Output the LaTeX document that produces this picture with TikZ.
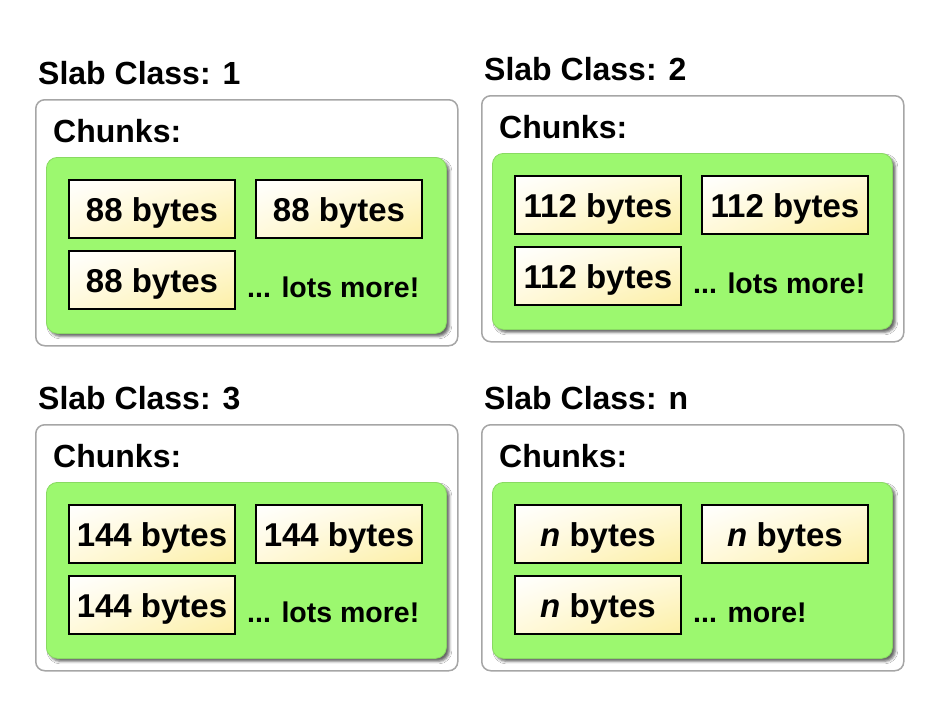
\documentclass[tikz,border=0pt]{standalone}
\usepackage{fontspec}
\setmainfont{Liberation Sans}
\usetikzlibrary{shadings,shadows.blur}

\definecolor{slabgreen}{HTML}{9CF86F}
\definecolor{boxgray}{HTML}{A6A6A6}
\definecolor{chunkyellow}{HTML}{FCEFA6}
\definecolor{chunkpale}{HTML}{FFF9DA}

\tikzset{
  titletext/.style={inner sep=0pt, font=\fontsize{32}{38}\selectfont\bfseries},
  moretext/.style={inner sep=0pt, font=\fontsize{28.5}{34}\selectfont\bfseries},
  classbox/.style={draw=boxgray, line width=1.5pt, fill=white, rounded corners=9pt,
    minimum width=422pt, minimum height=246pt, inner sep=0pt, anchor=north west},
  chunkarea/.style={fill=slabgreen, draw=slabgreen!88!black, line width=0.8pt,
    rounded corners=11pt, minimum width=400pt, minimum height=176pt, inner sep=0pt,
    anchor=north west,
    blur shadow={shadow xshift=3pt, shadow yshift=-3pt, shadow blur radius=2.5pt,
      shadow opacity=60}},
  chunkbox/.style={draw=black, line width=1.4pt, minimum width=166pt,
    minimum height=58pt, inner sep=0pt, text height=26pt, text depth=2pt,
    upper left=white, upper right=chunkpale, lower left=chunkpale,
    lower right=chunkyellow,
    font=\fontsize{33}{38}\selectfont\bfseries},
}

% One slab class: #1 name suffix, #2/#3 offset, #4 class id,
% #5 chunk size, #6 trailing note
\newcommand\slabpanel[6]{%
  \begin{scope}[shift={(#2,#3)}]
    \node[titletext, anchor=base west] (title#1) at (38,84) {Slab Class: #4};
    \node[classbox] (class#1) at (35,99) {};
    \node[titletext, anchor=base west] (chunks#1) at (53,142) {Chunks:};
    \node[chunkarea] (area#1) at (46,157) {};
    \node[chunkbox] (c#1a) at (152,209) {#5 bytes};
    \node[chunkbox] (c#1b) at (339,209) {#5 bytes};
    \node[chunkbox] (c#1c) at (152,280) {#5 bytes};
    \node[moretext, anchor=base west] (more#1) at (247,297) {#6};
  \end{scope}}

\begin{document}
\begin{tikzpicture}[x=1pt, y=-1pt]
  \useasboundingbox (0,0) rectangle (934,710);
  \slabpanel{1}{0}{0}{1}{88}{... lots more!}
  \slabpanel{2}{446}{-4}{2}{112}{... lots more!}
  \slabpanel{3}{0}{325}{3}{144}{... lots more!}
  \slabpanel{4}{446}{325}{n}{{\itshape n}}{... more!}
\end{tikzpicture}
\end{document}
